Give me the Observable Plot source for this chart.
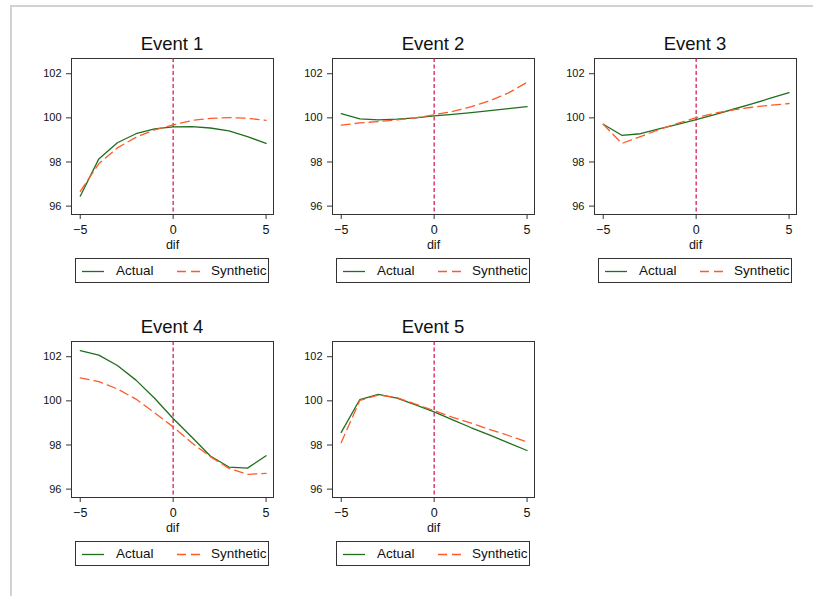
<!DOCTYPE html>
<html>
<head>
<meta charset="utf-8">
<script src="https://cdn.jsdelivr.net/npm/d3@7"></script>
<script src="https://cdn.jsdelivr.net/npm/@observablehq/plot@0.6"></script>
<style>
  html, body { margin: 0; padding: 0; background: #fff; }
  #root { position: relative; width: 813px; height: 596px; overflow: hidden; background: #fff;
          font-family: "Liberation Sans", Arial, Helvetica, sans-serif; }
  .outer { position: absolute; left: 10px; top: 5px; width: 900px; height: 700px;
           border-left: 2px solid #d2d2d2; border-top: 2px solid #d2d2d2; }
  .title { position: absolute; font-size: 18.5px; color: #111; text-align: center; width: 202px; line-height: 1; }
  .panel { position: absolute; }
  .legend { position: absolute; width: 194px; height: 25px; border: 1px solid #333; box-sizing: border-box;
            font-size: 13.5px; color: #111; }
  .legend svg { position: absolute; left: 0; top: 0; }
  .legend span { position: absolute; top: 4px; }
</style>
</head>
<body>
<div id="root"><div class="outer"></div></div>
<script>
const difs = [-5, -4, -3, -2, -1, 0, 1, 2, 3, 4, 5];
const eventNames = ["Event 1", "Event 2", "Event 3", "Event 4", "Event 5"];
const seriesNames = ["Actual", "Synthetic"];
const yTicks = [96, 98, 100, 102];
const xTicks = [-5, 0, 5];

const event1Actual    = [96.45, 98.14, 98.87, 99.28, 99.50, 99.59, 99.60, 99.54, 99.41, 99.15, 98.84];
const event1Synthetic = [96.67, 97.92, 98.64, 99.12, 99.46, 99.68, 99.88, 99.98, 100.01, 99.98, 99.89];
const event2Actual    = [100.19, 99.95, 99.91, 99.94, 100.00, 100.09, 100.16, 100.24, 100.33, 100.42, 100.51];
const event2Synthetic = [99.67, 99.77, 99.83, 99.91, 100.00, 100.14, 100.29, 100.51, 100.78, 101.13, 101.61];
const event3Actual    = [99.71, 99.21, 99.28, 99.50, 99.70, 99.92, 100.15, 100.39, 100.63, 100.89, 101.14];
const event3Synthetic = [99.71, 98.84, 99.15, 99.47, 99.75, 100.01, 100.21, 100.36, 100.48, 100.57, 100.65];
const event4Actual    = [102.28, 102.07, 101.60, 100.94, 100.12, 99.20, 98.36, 97.50, 97.00, 96.95, 97.51];
const event4Synthetic = [101.04, 100.87, 100.54, 100.08, 99.46, 98.82, 98.10, 97.47, 96.94, 96.67, 96.71];
const event5Actual    = [98.57, 100.06, 100.29, 100.12, 99.82, 99.50, 99.14, 98.78, 98.45, 98.10, 97.75];
const event5Synthetic = [98.11, 100.02, 100.26, 100.15, 99.85, 99.56, 99.25, 98.99, 98.70, 98.43, 98.14];

const actualSeries = [event1Actual, event2Actual, event3Actual, event4Actual, event5Actual];
const syntheticSeries = [event1Synthetic, event2Synthetic, event3Synthetic, event4Synthetic, event5Synthetic];

const GREEN = "#1f6f1f";
const ORANGE = "#ff5a28";
const RULE = "#d0104c";
const FONT = "'Liberation Sans', Arial, Helvetica, sans-serif";

// frame positions (left, top) of each panel
const frames = [[71, 58], [332, 58], [594, 58], [71, 341], [332, 341]];
const FW = 202, FH = 156;
const mL = 40, mR = 10, mT = 8, mB = 44;

const root = document.getElementById("root");

eventNames.forEach((name, i) => {
  const [fx, fy] = frames[i];
  const rows = [];
  difs.forEach((d, j) => {
    rows.push({dif: d, value: actualSeries[i][j], series: seriesNames[0]});
    rows.push({dif: d, value: syntheticSeries[i][j], series: seriesNames[1]});
  });
  const chart = Plot.plot({
    width: FW + mL + mR,
    height: FH + mT + mB,
    marginLeft: mL, marginRight: mR, marginTop: mT, marginBottom: mB,
    style: {fontFamily: FONT, fontSize: "11px", color: "#111", background: "transparent", overflow: "visible"},
    x: {domain: [-5.47, 5.4]},
    y: {domain: [95.62, 102.69]},
    marks: [
      Plot.frame({stroke: "#333", strokeWidth: 1}),
      Plot.ruleX([0], {stroke: RULE, strokeWidth: 1.2, strokeDasharray: "4,2.5"}),
      Plot.line(rows.filter(r => r.series === "Actual"), {x: "dif", y: "value", stroke: GREEN, strokeWidth: 1.3}),
      Plot.line(rows.filter(r => r.series === "Synthetic"), {x: "dif", y: "value", stroke: ORANGE, strokeWidth: 1.3, strokeDasharray: "9,5"}),
      Plot.axisY({ticks: yTicks, tickSize: 5, tickPadding: 5, label: null, fontSize: 11, tickFormat: d => String(d), stroke: "#333"}),
      Plot.axisX({ticks: xTicks, tickSize: 5, tickPadding: 6, label: "dif", labelAnchor: "center", labelArrow: "none", labelOffset: 34, fontSize: 12.5, stroke: "#333"})
    ]
  });
  chart.classList.add("panel");
  chart.style.left = (fx - mL) + "px";
  chart.style.top = (fy - mT) + "px";
  root.appendChild(chart);

  const t = document.createElement("div");
  t.className = "title";
  t.textContent = name;
  t.style.left = fx + "px";
  t.style.top = (fy - 23) + "px";
  root.appendChild(t);

  const lg = document.createElement("div");
  lg.className = "legend";
  lg.style.left = (fx + 4) + "px";
  lg.style.top = (fy + 200) + "px";
  lg.innerHTML =
    `<svg width="194" height="25">
       <line x1="6" x2="28" y1="12.5" y2="12.5" stroke="${GREEN}" stroke-width="1.3"/>
       <line x1="101" x2="125" y1="12.5" y2="12.5" stroke="${ORANGE}" stroke-width="1.3" stroke-dasharray="9,5"/>
     </svg>
     <span style="left:40px">${seriesNames[0]}</span>
     <span style="left:135px">${seriesNames[1]}</span>`;
  root.appendChild(lg);
});
</script>
</body>
</html>
